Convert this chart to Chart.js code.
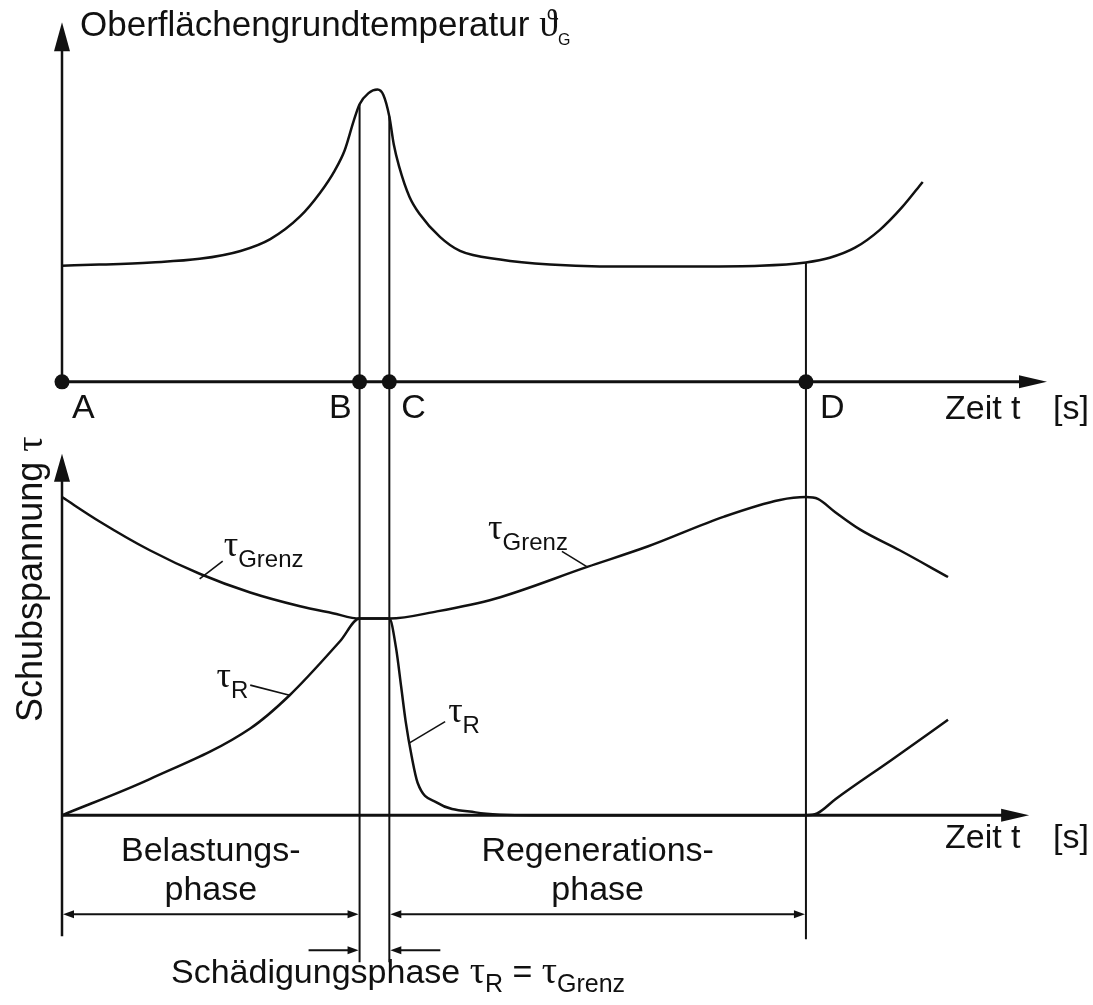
<!DOCTYPE html>
<html lang="de">
<head>
<meta charset="utf-8">
<title>Oberflächengrundtemperatur und Schubspannung</title>
<script src="https://cdn.jsdelivr.net/npm/chart.js@4.4.1/dist/chart.umd.min.js"></script>
<style>
  html, body { margin: 0; padding: 0; background: #fff; overflow: hidden; }
  canvas { display: block; }
</style>
</head>
<body>
<canvas id="phasen" width="1093" height="1005"></canvas>
<script>
// Phasengrenzen auf der Zeitachse
const eventLabels = ['A', 'B', 'C', 'D'];
const eventTimes  = [0, 40, 44, 100];

// Oberflächengrundtemperatur (oberes Diagramm)
const tempTime  = [0, 5, 12, 18.5, 24, 28, 32, 34.7, 36.7, 38, 39.2, 40, 41.2, 42.4, 43.2, 44, 44.6, 45.3, 46.7, 48.1, 50.8, 53.5, 58.9, 65.6, 72.3, 85.8, 93.8, 100, 103.2, 106.6, 109.9, 112.9, 115.7];
const tempValue = [32.3, 32.6, 33.2, 34.2, 36.4, 39.7, 46.0, 52.6, 58.9, 64.4, 72.5, 77.2, 80.3, 81.3, 79.8, 73.8, 66.0, 60.0, 51.5, 46.6, 40.3, 36.4, 34.0, 32.6, 32.1, 32.1, 32.3, 33.2, 34.5, 37.3, 42.2, 48.5, 55.6];

// Grenzschubspannung
const grenzTime  = [0, 5.1, 11.8, 18.5, 25.3, 32, 36.4, 40, 44, 50.4, 58.2, 70.6, 78.8, 89, 96.5, 100, 101.6, 103.9, 107.3, 112.6, 119.1];
const grenzValue = [88.0, 81.2, 73.3, 66.8, 61.6, 57.8, 55.9, 54.4, 54.4, 56.4, 59.9, 68.7, 74.4, 82.6, 87.2, 88.0, 87.5, 83.9, 79.0, 73.3, 65.9];

// Reibschubspannung
const reibTime  = [0, 11.8, 25.3, 30.6, 37.4, 40, 44, 44.9, 45.6, 46.2, 47.0, 47.8, 50.4, 55.6, 63.3, 100, 101.5, 104, 111.5, 119.1];
const reibValue = [0, 10.0, 24.0, 33.2, 48.2, 54.4, 54.4, 46.3, 35.4, 25.9, 16.3, 9.0, 3.5, 0.8, 0, 0, 0.5, 4.5, 15.3, 26.4];

const SANS  = '"Liberation Sans", Arial, sans-serif';
const SERIF = '"Liberation Serif", "Times New Roman", serif';
const INK   = '#111';
const H     = 1005;

// Wertebereich so legen, dass die Null auf axisPx und "span" auf tipPx liegt
function panelRange(axisPx, tipPx, span) {
  const perUnit = (axisPx - tipPx) / span;
  return { min: -(H - axisPx) / perUnit, max: axisPx / perUnit };
}

const points = (ts, vs) => ts.map((t, i) => ({ x: t, y: vs[i] }));

const curveStyle = {
  borderColor: INK,
  borderWidth: 2.5,
  pointRadius: 0,
  fill: false,
  cubicInterpolationMode: 'monotone'
};

function arrowHead(ctx, x, y, angle, len, half) {
  ctx.save();
  ctx.translate(x, y);
  ctx.rotate(angle);
  ctx.beginPath();
  ctx.moveTo(0, 0);
  ctx.lineTo(-len, -half);
  ctx.lineTo(-len, half);
  ctx.closePath();
  ctx.fill();
  ctx.restore();
}

function line(ctx, x1, y1, x2, y2, w) {
  ctx.lineWidth = w;
  ctx.beginPath();
  ctx.moveTo(x1, y1);
  ctx.lineTo(x2, y2);
  ctx.stroke();
}

// Text aus Teilstücken [text, font, dy] (für Indizes)
function richText(ctx, x, y, parts, align) {
  let w = 0;
  parts.forEach(p => { ctx.font = p[1]; w += ctx.measureText(p[0]).width; });
  let cx = align === 'center' ? x - w / 2 : align === 'right' ? x - w : x;
  ctx.textAlign = 'left';
  ctx.textBaseline = 'alphabetic';
  parts.forEach(p => {
    ctx.font = p[1];
    ctx.fillText(p[0], cx, y + (p[2] || 0));
    cx += ctx.measureText(p[0]).width;
  });
}

const tau = (sub) => [['τ', '36px ' + SERIF, 0], [sub, '24px ' + SANS, 11]];

const schematic = {
  id: 'schematic',
  beforeDraw(chart) {
    const { ctx } = chart;
    ctx.save();
    ctx.fillStyle = '#fff';
    ctx.fillRect(0, 0, chart.width, chart.height);
    ctx.restore();
  },
  beforeDatasetsDraw(chart) {
    const { ctx } = chart;
    const x = chart.scales.x, yT = chart.scales.yTemp, yB = chart.scales.yTau;
    const x0 = x.getPixelForValue(0);
    const top0 = yT.getPixelForValue(0), bot0 = yB.getPixelForValue(0);
    ctx.save();
    ctx.strokeStyle = INK;
    ctx.fillStyle = INK;

    // Achsen mit Pfeilen
    line(ctx, x0, top0, x0, yT.getPixelForValue(100) + 20, 2.5);
    arrowHead(ctx, x0, yT.getPixelForValue(100), -Math.PI / 2, 29, 8);
    line(ctx, x0, top0, x.getPixelForValue(132.4) - 20, top0, 3);
    arrowHead(ctx, x.getPixelForValue(132.4), top0, 0, 28, 6.5);

    line(ctx, x0, bot0 + 121, x0, yB.getPixelForValue(100) + 20, 2.5);
    arrowHead(ctx, x0, yB.getPixelForValue(100), -Math.PI / 2, 28, 8);
    line(ctx, x0, bot0, x.getPixelForValue(130) - 20, bot0, 3);
    arrowHead(ctx, x.getPixelForValue(130), bot0, 0, 28, 6.5);

    // senkrechte Linien an B, C und D
    [[1, 147], [2, 147], [3, 124]].forEach(([i, below]) => {
      const t = eventTimes[i];
      const px = x.getPixelForValue(t);
      const v = tempValue[tempTime.indexOf(t)];
      line(ctx, px, yT.getPixelForValue(v), px, bot0 + below, 2);
    });

    // Bemaßungspfeile der Phasen
    const pA = x.getPixelForValue(eventTimes[0]), pB = x.getPixelForValue(eventTimes[1]);
    const pC = x.getPixelForValue(eventTimes[2]), pD = x.getPixelForValue(eventTimes[3]);
    const yDim = bot0 + 99;
    [[pA, pB], [pC, pD]].forEach(([a, b]) => {
      line(ctx, a + 6, yDim, b - 6, yDim, 2);
      arrowHead(ctx, a + 1, yDim, Math.PI, 11, 4);
      arrowHead(ctx, b - 1, yDim, 0, 11, 4);
    });
    const ySch = bot0 + 135;
    line(ctx, pB - 51, ySch, pB - 6, ySch, 2);
    arrowHead(ctx, pB - 1, ySch, 0, 11, 4);
    line(ctx, pC + 51, ySch, pC + 6, ySch, 2);
    arrowHead(ctx, pC + 1, ySch, Math.PI, 11, 4);
    ctx.restore();
  },
  afterDatasetsDraw(chart) {
    const { ctx } = chart;
    const x = chart.scales.x, yT = chart.scales.yTemp, yB = chart.scales.yTau;
    const top0 = yT.getPixelForValue(0), bot0 = yB.getPixelForValue(0);
    const P = (t, v) => [x.getPixelForValue(t), yB.getPixelForValue(v)];
    ctx.save();
    ctx.fillStyle = INK;
    ctx.strokeStyle = INK;
    const F = '34px ' + SANS;

    // Achsentitel
    richText(ctx, 80, 36, [['Oberflächengrundtemperatur ', '35px ' + SANS, 0], ['ϑ', '38px ' + SERIF, 0], ['G', '16px ' + SANS, 9]], 'left');
    ctx.save();
    ctx.translate(42, 722);
    ctx.rotate(-Math.PI / 2);
    richText(ctx, 0, 0, [['Schubspannung ', '36px ' + SANS, 0], ['τ', '38px ' + SERIF, 0]], 'left');
    ctx.restore();

    [top0, bot0].forEach((y0, k) => {
      richText(ctx, 945, y0 + 37 - k * 4, [['Zeit t', F, 0]], 'left');
      richText(ctx, 1053, y0 + 37 - k * 4, [['[s]', F, 0]], 'left');
    });

    // Punktbezeichnungen
    const offs = [[10, 'left'], [-8, 'right'], [12, 'left'], [14, 'left']];
    eventLabels.forEach((lab, i) => {
      richText(ctx, x.getPixelForValue(eventTimes[i]) + offs[i][0], top0 + 36, [[lab, F, 0]], offs[i][1]);
    });

    // Kurvenbeschriftungen mit Hinweislinien
    const notes = [
      { from: [18.5, 65.4], to: [21.6, 70.3], parts: tau('Grenz'), dx: 1, dy: -5, align: 'left' },
      { from: [70.6, 68.7], to: [67.2, 73.0], parts: tau('Grenz'), dx: 6, dy: -12, align: 'right' },
      { from: [30.6, 33.2], to: [25.3, 36.0], parts: tau('R'), dx: -2, dy: 2, align: 'right' },
      { from: [46.6, 19.9], to: [51.5, 25.9], parts: tau('R'), dx: 3, dy: 0, align: 'left' }
    ];
    notes.forEach(n => {
      const a = P(...n.from), b = P(...n.to);
      line(ctx, a[0], a[1], b[0], b[1], 1.6);
      richText(ctx, b[0] + n.dx, b[1] + n.dy, n.parts, n.align);
    });

    // Phasenbezeichnungen
    const mid1 = (x.getPixelForValue(eventTimes[0]) + x.getPixelForValue(eventTimes[1])) / 2;
    const mid2 = (x.getPixelForValue(eventTimes[2]) + x.getPixelForValue(eventTimes[3])) / 2;
    richText(ctx, mid1, bot0 + 46, [['Belastungs-', F, 0]], 'center');
    richText(ctx, mid1, bot0 + 85, [['phase', F, 0]], 'center');
    richText(ctx, mid2, bot0 + 46, [['Regenerations-', F, 0]], 'center');
    richText(ctx, mid2, bot0 + 85, [['phase', F, 0]], 'center');
    richText(ctx, 171, bot0 + 168, [
      ['Schädigungsphase ', F, 0], ['τ', '38px ' + SERIF, 0], ['R', '25px ' + SANS, 9],
      [' = ', F, 0], ['τ', '38px ' + SERIF, 0], ['Grenz', '25px ' + SANS, 9]
    ], 'left');
    ctx.restore();
  }
};

new Chart(document.getElementById('phasen'), {
  type: 'line',
  data: {
    datasets: [
      { label: 'Oberflächengrundtemperatur', data: points(tempTime, tempValue), yAxisID: 'yTemp', ...curveStyle },
      { label: 'τGrenz', data: points(grenzTime, grenzValue), yAxisID: 'yTau', ...curveStyle },
      { label: 'τR', data: points(reibTime, reibValue), yAxisID: 'yTau', ...curveStyle },
      {
        type: 'scatter', label: 'Zeitpunkte', yAxisID: 'yTemp',
        data: eventTimes.map(t => ({ x: t, y: 0 })),
        pointRadius: 7.5, pointBackgroundColor: INK, pointBorderWidth: 0,
        showLine: false, clip: false
      }
    ]
  },
  options: {
    responsive: false,
    animation: false,
    events: [],
    layout: { padding: { left: 62, right: 49, top: 0, bottom: 0 } },
    plugins: { legend: { display: false }, tooltip: { enabled: false } },
    scales: {
      x: { type: 'linear', display: false, min: 0, max: 132 },
      yTemp: { type: 'linear', position: 'left', display: false, ...panelRange(380, 15, 100) },
      yTau: { type: 'linear', position: 'left', display: false, ...panelRange(820, 453, 100) }
    }
  },
  plugins: [schematic]
});
</script>
</body>
</html>
